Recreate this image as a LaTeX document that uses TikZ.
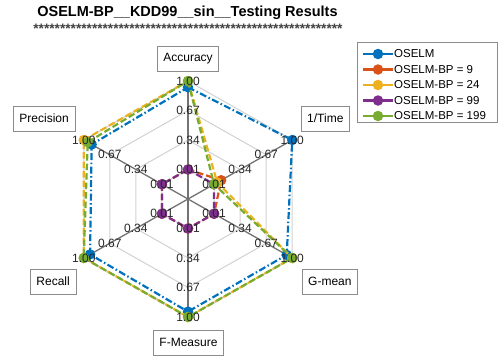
\documentclass[tikz,border=0pt]{standalone}
\usepackage{fontspec}
\setmainfont{Liberation Sans}
\usetikzlibrary{calc}
\definecolor{oselmblue}{HTML}{0072BD}
\definecolor{bporange}{HTML}{D95319}
\definecolor{bpyellow}{HTML}{EDB120}
\definecolor{bppurple}{HTML}{7E2F8E}
\definecolor{bpgreen}{HTML}{77AC30}
\begin{document}
\begin{tikzpicture}[x=1pt, y=1pt, declare function={rv(\v)=118*(0.25+0.75*(\v-0.01)/0.99);}]
        \tikzset{
          axlabel/.style={draw=black!45, fill=white, font=\fontsize{12}{14}\selectfont, inner xsep=6pt, minimum height=25pt},
          ticklabel/.style={font=\fontsize{12}{14}\selectfont, text=black!85, inner sep=0pt},
          ring/.style={draw=black!18, line width=1pt},
          spoke/.style={draw=black!55, line width=1.3pt},
          dotmark/.style={circle, inner sep=0pt, minimum size=10.5pt},
          series/.style={line width=2.2pt, line join=round},
          dashedline/.style={dash pattern=on 6.5pt off 3pt},
          dashdotline/.style={dash pattern=on 7pt off 2.5pt on 1.5pt off 2.5pt},
        }
        \useasboundingbox (0,0) rectangle (502,-360);
        \node [font=\bfseries\fontsize{14.5}{16}\selectfont] (title) at (187.5,-13) {OSELM-BP\_\_KDD99\_\_sin\_\_Testing Results};
        \node [font=\bfseries\fontsize{13.7}{16}\selectfont, text=black!75, inner sep=0pt] (stars) at (188,-29) {**********************************************************};
        % web and spokes
        \begin{scope}[shift={(188,-199)}, xscale=1.02]
          \coordinate (c) at (0,0);
          \foreach \r in {29.5,59,88.5,118}
            \draw[ring] (90:\r) -- (30:\r) -- (-30:\r) -- (-90:\r) -- (-150:\r) -- (150:\r) -- cycle;
          \foreach \i in {1,...,6} {
            \coordinate (ax\i) at ({150-60*\i}:118);
            \draw[spoke] (c) -- (ax\i);
          }
          % OSELM
          \foreach \v [count=\i] in {0.93,1.00,0.93,0.94,0.92,0.90}
            \coordinate (os\i) at ({150-60*\i}:{rv(\v)});
          \draw[series, oselmblue, dashdotline] (os1) -- (os2) -- (os3) -- (os4) -- (os5) -- (os6) -- cycle;
          \foreach \i in {1,...,6} \node[dotmark, fill=oselmblue] (osm\i) at (os\i) {};
          % OSELM-BP = 9
          \foreach \v [count=\i] in {0.01,0.10,0.01,0.01,0.01,0.01}
            \coordinate (bpa\i) at ({150-60*\i}:{rv(\v)});
          \draw[series, bporange, dashedline] (bpa1) -- (bpa2) -- (bpa3) -- (bpa4) -- (bpa5) -- (bpa6) -- cycle;
          \foreach \i in {1,...,6} \node[dotmark, fill=bporange] (bpam\i) at (bpa\i) {};
          % OSELM-BP = 24
          \foreach \v [count=\i] in {1.00,0.05,1.00,1.00,1.00,1.00}
            \coordinate (bpb\i) at ({150-60*\i}:{rv(\v)});
          \draw[series, bpyellow, dashedline] (bpb1) -- (bpb2) -- (bpb3) -- (bpb4) -- (bpb5) -- (bpb6) -- cycle;
          \foreach \i in {1,...,6} \node[dotmark, fill=bpyellow] (bpbm\i) at (bpb\i) {};
          % OSELM-BP = 99
          \foreach \v [count=\i] in {0.01,0.01,0.01,0.01,0.01,0.01}
            \coordinate (bpc\i) at ({150-60*\i}:{rv(\v)});
          \draw[series, bppurple, dashedline] (bpc1) -- (bpc2) -- (bpc3) -- (bpc4) -- (bpc5) -- (bpc6) -- cycle;
          \foreach \i in {1,...,6} \node[dotmark, fill=bppurple] (bpcm\i) at (bpc\i) {};
          % OSELM-BP = 199
          \foreach \v [count=\i] in {1.00,0.01,1.00,1.00,1.00,0.95}
            \coordinate (bpd\i) at ({150-60*\i}:{rv(\v)});
          \draw[series, bpgreen, dashedline] (bpd1) -- (bpd2) -- (bpd3) -- (bpd4) -- (bpd5) -- (bpd6) -- cycle;
          \foreach \i in {1,...,6} \node[dotmark, fill=bpgreen] (bpdm\i) at (bpd\i) {};
          % tick values along every spoke
          \foreach \i in {1,...,6}
            \foreach \t [count=\j] in {0.01,0.34,0.67,1.00}
              \node[ticklabel] (tick\i\j) at ({150-60*\i}:{29.5*\j}) {\t};
        \end{scope}
        % axis names
        \node [axlabel, anchor=south] (acc) at (188,-71) {Accuracy};
        \node [axlabel, anchor=west] (time) at (301,-118.5) {1/Time};
        \node [axlabel, anchor=west] (gmean) at (302,-281.5) {G-mean};
        \node [axlabel, anchor=north] (fmeas) at (188.5,-330) {F-Measure};
        \node [axlabel, anchor=east] (recall) at (76,-281.5) {Recall};
        \node [axlabel, anchor=east] (prec) at (75,-118.5) {Precision};
        % legend
        \node [draw=black!45, fill=white, minimum width=140pt, minimum height=80pt, anchor=north west] (legend) at (357,-42) {};
        \foreach \col/\name [count=\i] in {oselmblue/OSELM, bporange/OSELM-BP = 9, bpyellow/OSELM-BP = 24, bppurple/OSELM-BP = 99, bpgreen/OSELM-BP = 199} {
          \coordinate (lgs\i) at (363,{-38.5-15.5*\i});
          \coordinate (lge\i) at (393,{-38.5-15.5*\i});
          \draw[\col, line width=2.2pt] (lgs\i) -- (lge\i);
          \node[dotmark, fill=\col] (lgm\i) at ($(lgs\i)!0.5!(lge\i)$) {};
          \node[anchor=west, inner sep=1pt, font=\fontsize{11.5}{13}\selectfont] (lgt\i) at (lge\i) {\name};
        }
    \end{tikzpicture}
\end{document}
